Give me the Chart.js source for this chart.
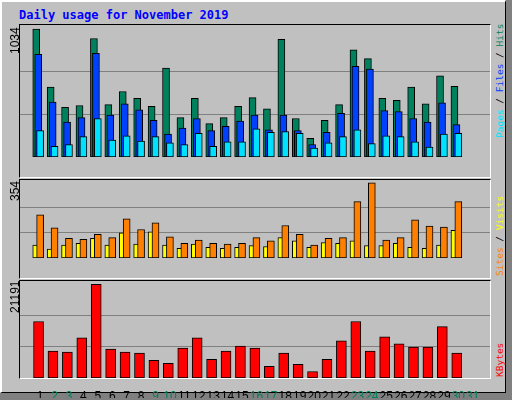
<!DOCTYPE html>
<html>
<head>
<meta charset="utf-8">
<script src="https://cdn.jsdelivr.net/npm/chart.js@4"></script>
<style>
  body { margin: 0; width: 512px; height: 400px; background: #808080; position: relative; overflow: hidden; font-family: "DejaVu Sans Mono", monospace; }
  #frame { position: absolute; left: 0; top: 0; width: 503px; height: 390px; background: #C0C0C0; border-left: 2px solid #fff; border-top: 2px solid #fff; border-right: 1px solid #000; border-bottom: 1px solid #000; }
  .box { position: absolute; left: 19px; width: 470px; border-top: 1px solid #000; border-left: 1px solid #000; border-right: 1px solid #fff; border-bottom: 1px solid #fff; }
  canvas { position: absolute; }
  .rot { position: absolute; transform-origin: left top; transform: rotate(-90deg); white-space: nowrap; font-size: 12px; }
  .side { font-size: 9.5px; }
  #title { position: absolute; left: 19px; top: 8px; color: #0000FF; font-weight: bold; font-size: 12px; }
</style>
</head>
<body>
<div id="frame"></div>
<div id="title">Daily usage for November 2019</div>
<div class="box" style="top:24px;height:152px"></div>
<div class="box" style="top:179px;height:98px"></div>
<div class="box" style="top:280px;height:97px"></div>
<canvas id="c1" style="left:20px;top:25px"></canvas>
<canvas id="c2" style="left:20px;top:180px"></canvas>
<canvas id="c3" style="left:20px;top:281px"></canvas>
<div class="rot" style="left:8px;top:54px;font-family:'Liberation Sans';">1034</div>
<div class="rot" style="left:8px;top:201px;font-family:'Liberation Sans';">354</div>
<div class="rot" style="left:8px;top:313px;font-family:'Liberation Sans';">21191</div>
<div class="rot side" style="left:494px;top:138px;"><span style="color:#00E0FF">Pages</span> / <span style="color:#0040FF">Files</span> / <span style="color:#00805C">Hits</span></div>
<div class="rot side" style="left:494px;top:276px;"><span style="color:#FF8000">Sites</span> / <span style="color:#FFFF00">Visits</span></div>
<div class="rot side" style="left:494px;top:377px;"><span style="color:#FF0000">KBytes</span></div>
<script>
// --- Data ---
const days = Array.from({ length: 31 }, (_, i) => i + 1);
const weekendDays = [2, 3, 9, 10, 16, 17, 23, 24, 30, 31];

const hits  = [1034, 564, 402, 416, 957, 423, 529, 473, 409, 718, 318, 473, 269, 318, 409, 480, 388, 950, 311, 150, 297, 423, 866, 795, 473, 458, 564, 430, 655, 571];
const files = [830, 444, 283, 318, 837, 339, 430, 381, 297, 185, 234, 311, 213, 248, 290, 339, 220, 339, 213, 101, 199, 353, 732, 711, 374, 367, 311, 283, 437, 262];
const pages = [213, 87, 101, 164, 311, 136, 171, 129, 164, 115, 101, 192, 87, 122, 122, 227, 199, 206, 192, 73, 115, 164, 220, 108, 171, 164, 122, 80, 185, 192];

const visits = [61, 42, 61, 69, 92, 61, 119, 65, 123, 61, 46, 65, 50, 46, 50, 58, 54, 96, 81, 50, 73, 69, 81, 58, 58, 69, 50, 46, 61, 130];
const sites  = [203, 142, 92, 88, 111, 96, 184, 134, 165, 100, 69, 84, 69, 65, 69, 96, 81, 153, 111, 61, 92, 96, 265, 354, 84, 96, 180, 150, 146, 265];

const kbytes = [12792, 6088, 5856, 9093, 21191, 6550, 5856, 5625, 4007, 3313, 6781, 9093, 4238, 6088, 7243, 6781, 2620, 5625, 3082, 1464, 4238, 8399, 12792, 6088, 9324, 7706, 7012, 7012, 11636, 5625];

const maxLabels = [1034, 354, 21191];

// --- Helpers ---
const X_MIN = 0.13, X_MAX = 31.67;

function pts(values, offset) {
    return values.map((v, i) => ({ x: days[i] + offset, y: v }));
}

function bars(label, values, offset, color, order, thickness) {
    return {
        label: label,
        data: pts(values, offset),
        backgroundColor: color,
        borderColor: '#000',
        borderWidth: 1,
        borderSkipped: false,
        barThickness: thickness,
        grouped: false,
        order: order
    };
}

function makeChart(id, w, h, datasets, yMax, gridMax, showDays) {
    const cv = document.getElementById(id);
    cv.width = w; cv.height = h;
    cv.style.width = w + 'px'; cv.style.height = h + 'px';
    return new Chart(cv, {
        type: 'bar',
        data: { datasets: datasets },
        options: {
            responsive: false,
            animation: false,
            devicePixelRatio: 1,
            layout: { padding: 0 },
            plugins: { legend: { display: false }, tooltip: { enabled: false } },
            scales: {
                x: {
                    type: 'linear',
                    min: X_MIN, max: X_MAX,
                    display: showDays,
                    grid: { display: false },
                    border: { display: false },
                    afterBuildTicks: s => { s.ticks = days.map(d => ({ value: d })); },
                    afterFit: s => { s.height = 20; },
                    ticks: {
                        padding: 3,
                        maxRotation: 0,
                        autoSkip: false,
                        font: { family: 'Liberation Sans', size: 12 },
                        color: ctx => weekendDays.includes(ctx.tick.value) ? '#00805C' : '#000'
                    }
                },
                y: {
                    min: 0, max: yMax,
                    afterBuildTicks: s => { s.ticks = [{ value: gridMax / 3 }, { value: gridMax * 2 / 3 }]; },
                    afterFit: s => { s.width = 0; },
                    grid: { color: '#808080', lineWidth: 1, drawTicks: false },
                    border: { display: false },
                    ticks: { display: false }
                }
            }
        }
    });
}

makeChart('c1', 470, 152, [
    bars('Pages', pages, 0, '#00E0FF', 1, 7),
    bars('Files', files, -0.13, '#0040FF', 2, 7),
    bars('Hits', hits, -0.27, '#00805C', 3, 7)
], 1066, maxLabels[0], false);

makeChart('c2', 470, 98, [
    bars('Visits', visits, -0.27, '#FFFF00', 2, 7),
    bars('Sites', sites, 0, '#FF8000', 1, 7)
], 367, maxLabels[1], false);

makeChart('c3', 470, 117, [
    bars('KBytes', kbytes, -0.11, '#FF0000', 1, 10)
], 21954, maxLabels[2], true);
</script>
</body>
</html>
